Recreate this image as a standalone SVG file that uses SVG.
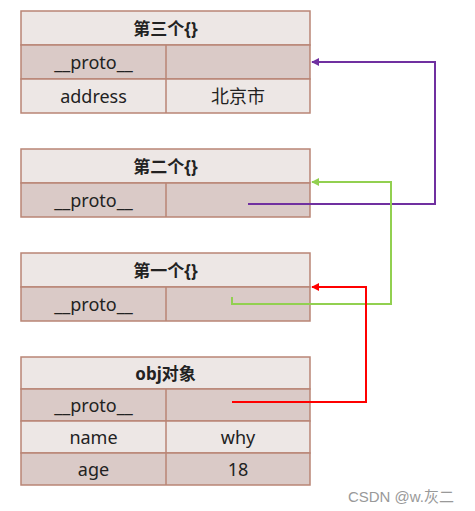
<svg xmlns="http://www.w3.org/2000/svg" width="475" height="511" viewBox="0 0 475 511">
<defs>
<style>
.lt{fill:#ede7e5;stroke:#b98575;stroke-width:1.5}
.dk{fill:#dacac7;stroke:#b98575;stroke-width:1.5}
.dv{stroke:#b98575;stroke-width:1.5}
text{font-family:"Noto Sans","Noto Sans CJK SC",sans-serif;font-size:18px;fill:#222;text-anchor:middle;dominant-baseline:central}
.h{font-weight:bold;font-size:17px}
.c{fill:none;stroke-width:2}
</style>
<marker id="ap" viewBox="0 0 10 10" refX="9" refY="5" markerWidth="4" markerHeight="4" orient="auto"><path d="M0,0L10,5L0,10z" fill="#7030a0"/></marker>
<marker id="ag" viewBox="0 0 10 10" refX="9" refY="5" markerWidth="4" markerHeight="4" orient="auto"><path d="M0,0L10,5L0,10z" fill="#92d050"/></marker>
<marker id="ar" viewBox="0 0 10 10" refX="9" refY="5" markerWidth="4" markerHeight="4" orient="auto"><path d="M0,0L10,5L0,10z" fill="#ff0000"/></marker>
</defs>
<rect width="475" height="511" fill="#fff"/>
<g id="third">
<rect class="lt" x="21" y="11" width="289" height="34"/>
<rect class="dk" x="21" y="45" width="289" height="34"/>
<rect class="lt" x="21" y="79" width="289" height="34"/>
<line class="dv" x1="166" y1="45" x2="166" y2="113"/>
<text class="h" x="165.5" y="28">第三个{}</text>
<text x="93.5" y="62">__proto__</text>
<text x="93.5" y="96">address</text>
<text x="238" y="96">北京市</text>
</g>
<g id="second">
<rect class="lt" x="21" y="149" width="289" height="34"/>
<rect class="dk" x="21" y="183" width="289" height="34"/>
<line class="dv" x1="166" y1="183" x2="166" y2="217"/>
<text class="h" x="165.5" y="166">第二个{}</text>
<text x="93.5" y="200">__proto__</text>
</g>
<g id="first">
<rect class="lt" x="21" y="253" width="289" height="34"/>
<rect class="dk" x="21" y="287" width="289" height="34"/>
<line class="dv" x1="166" y1="287" x2="166" y2="321"/>
<text class="h" x="165.5" y="270">第一个{}</text>
<text x="93.5" y="304">__proto__</text>
</g>
<g id="obj">
<rect class="lt" x="21" y="357" width="289" height="32"/>
<rect class="dk" x="21" y="389" width="289" height="32"/>
<rect class="lt" x="21" y="421" width="289" height="32"/>
<rect class="dk" x="21" y="453" width="289" height="32"/>
<line class="dv" x1="166" y1="389" x2="166" y2="485"/>
<text class="h" x="165.5" y="373">obj对象</text>
<text x="93.5" y="405">__proto__</text>
<text x="93.5" y="437">name</text>
<text x="238" y="437">why</text>
<text x="93.5" y="469">age</text>
<text x="238" y="469">18</text>
</g>
<g id="connectors">
<polyline class="c" stroke="#7030a0" points="248,204 435,204 435,62 312,62" marker-end="url(#ap)"/>
<polyline class="c" stroke="#92d050" points="232,297 232,304 391,304 391,182 312,182" marker-end="url(#ag)"/>
<polyline class="c" stroke="#ff0000" points="232,402 366,402 366,287 312,287" marker-end="url(#ar)"/>
</g>
<text x="401" y="496" style="font-family:'Liberation Sans','Noto Sans CJK SC',sans-serif;font-size:15px;fill:#999">CSDN @w.灰二</text>
</svg>
